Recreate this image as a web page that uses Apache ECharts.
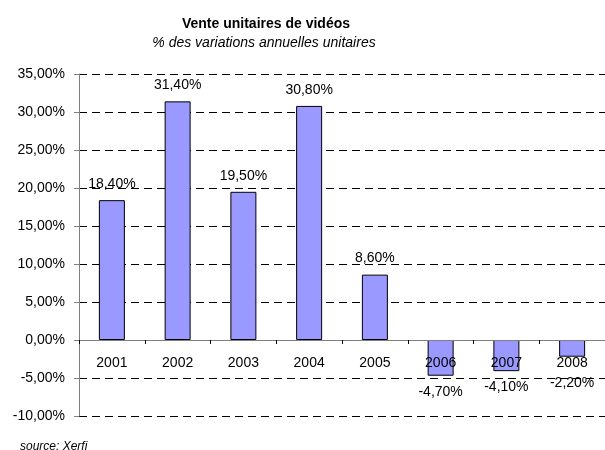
<!DOCTYPE html>
<html>
<head>
<meta charset="utf-8">
<script src="https://cdn.jsdelivr.net/npm/echarts@6/dist/echarts.min.js"></script>
<style>
  html, body { margin: 0; padding: 0; background: #fff; }
  #chart { width: 605px; height: 450px; }
</style>
</head>
<body>
<div id="chart"></div>
<script>
// années et variations (%)
const years = ["2001", "2002", "2003", "2004", "2005", "2006", "2007", "2008"];
const variations = [18.4, 31.4, 19.5, 30.8, 8.6, -4.7, -4.1, -2.2];

const fmtPct = v => v.toFixed(2).replace(".", ",") + "%";
const fmtLabel = v => v.toFixed(1).replace(".", ",") + "0%";

const chart = echarts.init(document.getElementById("chart"));

const option = {
  animation: false,
  textStyle: { fontFamily: "Liberation Sans, Arial, sans-serif" },
  title: [
    {
      text: "Vente unitaires de vidéos",
      left: 266,
      top: 17,
      padding: 0,
      textAlign: "center",
      textStyle: { fontSize: 14, fontWeight: "bold", color: "#000", fontFamily: "Liberation Sans" }
    },
    {
      text: "% des variations annuelles unitaires",
      left: 264,
      top: 36,
      padding: 0,
      textAlign: "center",
      textStyle: { fontSize: 14, fontWeight: "normal", fontStyle: "italic", color: "#000", fontFamily: "Liberation Sans" }
    },
    {
      text: "source: Xerfi",
      left: 20,
      top: 441,
      padding: 0,
      textStyle: { fontSize: 12, fontWeight: "normal", fontStyle: "italic", color: "#000", fontFamily: "Liberation Sans" }
    }
  ],
  grid: {
    left: 79,
    top: 74,
    width: 528,
    height: 342,
    containLabel: false
  },
  xAxis: {
    type: "category",
    data: years,
    z: 3,
    offset: -76,
    axisLine: { onZero: false, lineStyle: { color: "#808080", width: 1 } },
    axisTick: { show: true, length: 4, inside: false, lineStyle: { color: "#000" } },
    axisLabel: { margin: 16, fontSize: 14, color: "#000", fontFamily: "Liberation Sans" },
    splitLine: { show: false }
  },
  yAxis: {
    type: "value",
    min: -10,
    max: 35,
    interval: 5,
    axisLine: { show: true, lineStyle: { color: "#808080", width: 1 } },
    axisTick: { show: true, length: 5, lineStyle: { color: "#808080" } },
    axisLabel: {
      margin: 14,
      fontSize: 14,
      color: "#000",
      fontFamily: "Liberation Sans",
      formatter: v => fmtPct(v)
    },
    splitLine: {
      show: true,
      lineStyle: { color: "#000", width: 1, type: [8, 5] }
    }
  },
  series: [
    {
      type: "bar",
      data: variations.map(v => ({
        value: v,
        label: {
          position: v >= 0 ? "top" : "bottom",
          // petites barres négatives : étiquette repoussée sous l'année
          distance: v < 0 && v > -3 ? 19 : 9
        }
      })),
      barWidth: 26,
      itemStyle: { color: "#9999ff", borderColor: "#000", borderWidth: 1 },
      label: {
        show: true,
        distance: 9,
        fontSize: 14,
        color: "#000",
        fontFamily: "Liberation Sans",
        formatter: p => fmtLabel(p.value)
      },
      z: 2
    }
  ]
};

chart.setOption(option);
</script>
</body>
</html>
